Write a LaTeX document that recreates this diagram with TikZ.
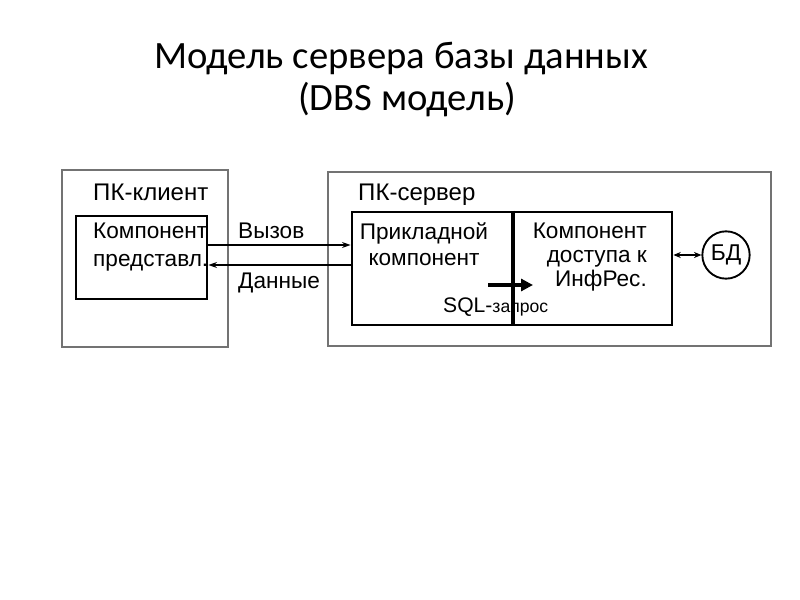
\documentclass[tikz,border=0pt]{standalone}
\usepackage{fontspec}
\setmainfont{Liberation Sans}
\newfontfamily\titlefont{Carlito}
\usepackage{tikz}
\usetikzlibrary{calc,positioning,arrows.meta}
\tikzset{
 dbs host/.style={draw=black!55,line width=0.9pt,inner sep=0pt},
 dbs part/.style={draw=black,line width=2.4pt,inner sep=0pt},
 dbs base/.style={circle,draw=black,line width=1.6pt,minimum size=14.2mm,
                  inner sep=0pt,font=\fontsize{19.5}{24}\selectfont},
 dbs flow/.style={line width=1.1pt,-{Stealth[length=2.6mm,width=1.8mm]}},
 dbs text/.style={font=\fontsize{19.3}{24}\selectfont,inner sep=0pt},
 dbs host text/.style={font=\fontsize{20.5}{24}\selectfont,inner sep=0pt},
 dbs title/.style={font=\titlefont\fontsize{33}{35}\selectfont,inner sep=0pt}
}
\begin{document}
\begin{tikzpicture}[x=0.3mm,y=-0.3mm]
 \useasboundingbox (0,0) rectangle (800,600);

 % title
 \node[dbs title,anchor=north] (title) at (401,42) {Модель сервера базы данных};
 \node[dbs title,anchor=north] (subtitle) at (407,82) {(DBS модель)};

 % hosts
 \node[dbs host,minimum width=49.8mm,minimum height=53.1mm] (client) at (145,258.5) {};
 \node[dbs host,minimum width=132.9mm,minimum height=52.2mm] (server) at (549.5,259) {};
 \node[dbs host text,anchor=north west] (clientlbl) at (93,184) {ПК-клиент};
 \node[dbs host text,anchor=north west] (serverlbl) at (358,184) {ПК-сервер};

 % components
 \node[dbs part,minimum width=39.3mm,minimum height=24.9mm] (pres) at (141.5,257.5) {};
 \node[dbs part,minimum width=48mm,minimum height=33.9mm] (app) at (432,268.5) {};
 \node[dbs part,minimum width=48mm,minimum height=33.9mm] (acc) at (592,268.5) {};
 \node[dbs base] (db) at (726,255) {БД};

 \node[dbs text,align=left,anchor=north west] (preslbl) at (93,222.5)
   {Компонент\\представл.};
 \node[dbs text,align=center,anchor=north,font=\fontsize{19.3}{22}\selectfont]
   (applbl) at (424,222.5) {Прикладной\\компонент};
 \node[dbs text,align=right,anchor=north east,font=\fontsize{19.3}{20.5}\selectfont]
   (acclbl) at (647,222.5) {Компонент\\доступа к\\ИнфРес.};

 % call / data
 \coordinate (callout) at ($(pres.east)+(0,-12.5)$);
 \coordinate (dataout) at ($(app.west)+(0,-3.5)$);
 \draw[dbs flow] (callout) -- (callout -| app.west);
 \draw[dbs flow] (dataout) -- (dataout -| pres.east);
 \node[dbs text,anchor=north west] (calllbl) at (238,222.5) {Вызов};
 \node[dbs text,anchor=north west] (datalbl) at (238,273) {Данные};

 % sql
 \coordinate (sqlin) at (488,285);
 \draw[line width=3.4pt,-{Triangle[length=3.6mm,width=3.6mm]}] (sqlin) -- +(45,0);
 \node[anchor=base west,inner sep=0pt] (sqllbl) at (443,312)
   {\fontsize{18}{22}\selectfont SQL-\fontsize{15}{17}\selectfont запрос};
 \draw[line width=2.4pt] (app.north east) -- (app.south east);

 % db link
 \draw[line width=1.1pt,{Stealth[length=2.2mm,width=1.8mm]}-{Stealth[length=2.2mm,width=1.8mm]}]
   (db.west -| acc.east) -- (db.west);
\end{tikzpicture}
\end{document}
